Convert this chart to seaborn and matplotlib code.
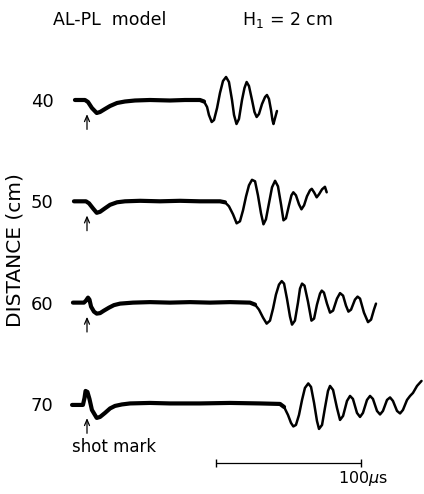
"""Recreation of the AL-PL model record section (H1 = 2 cm): four traces,
shot mark arrows and a 100 us time bar."""
import matplotlib
matplotlib.use("Agg")
import matplotlib.pyplot as plt
import numpy as np
import pandas as pd
import seaborn as sns

# distances of the receivers (cm)
distances = [40, 50, 60, 70]

# time (us, shot at 0) and trace deflection (arbitrary units, up positive)
t_40 = [-8.3, -1.4, 0.7, 3.4, 6.7, 9.0, 12.4, 15.9, 20.7, 26.2, 33.1, 43.4, 57.2, 67.6, 77.9,
        80.7, 82.8, 84.1, 86.0, 87.6, 89.7, 91.7, 93.8, 95.9, 97.9, 100.0, 101.4, 103.1, 104.8,
        106.9, 108.6, 110.1, 111.7, 113.8, 115.5, 117.0, 118.6, 120.7, 122.8, 124.1, 125.5,
        126.9, 127.9, 128.6, 129.7, 131.0]
a_40 = [0, 0, -2, -8, -13, -12, -9, -6, -3, -1.5, -0.5, 0, -0.5, 0, 0,
        -1.5, -7, -15, -22, -20, -8, 7, 19, 23, 18, 0, -15, -24, -19,
        0, 12, 18, 14, 0, -12, -17, -14, -4, 3, 5, 1,
        -10, -20, -24, -18, -11]

t_50 = [-9.0, -0.7, 1.4, 4.1, 6.7, 9.0, 12.4, 15.9, 20.7, 26.2, 36.6, 50.3, 64.1, 77.9, 91.7,
        95.2, 97.9, 100.7, 103.2, 105.5, 107.6, 109.7, 111.7, 113.8, 115.9, 117.9, 120.0, 121.7,
        123.4, 125.5, 127.6, 129.7, 131.7, 133.8, 135.5, 137.2, 139.3, 141.0, 142.3, 144.1,
        146.2, 147.9, 149.7, 151.7, 153.8, 155.0, 156.6, 158.4, 160.0, 162.1, 164.1, 165.3]
a_50 = [0, 0, -2, -7, -11.5, -10.5, -7, -3.5, -1, 0, 0.5, 0, 0.5, 0, 0,
        -1, -5, -13, -22, -20, -9, 5, 16, 21.5, 20, 6, -12, -23,
        -18, -2, 14, 20.5, 15, -3, -19, -17, -4, 6, 9, 6,
        -3, -8, -4, 5, 11, 12.5, 9, 4, 7, 12, 14.5, 9]

t_60 = [-9.7, -2.1, -0.7, 0.7, 1.7, 2.8, 4.8, 6.7, 9.0, 11.7, 15.2, 18.6, 22.8, 31.7, 43.4,
        57.2, 71.0, 84.8, 98.6, 112.4, 115.9, 118.6, 121.4, 123.9, 126.2, 128.3, 130.3, 132.4,
        134.3, 135.9, 137.9, 140.0, 141.4, 143.4, 145.5, 146.9, 148.3, 150.0, 152.4, 154.8,
        156.6, 158.6, 160.7, 161.9, 163.4, 165.5, 167.6, 169.7, 172.4, 174.5, 176.6, 178.6,
        180.3, 182.1, 184.8, 186.6, 188.3, 191.0, 193.8, 195.9, 197.9, 199.3]
a_60 = [0, 0, 2, 5, 3, -4, -9, -11, -10.5, -8, -5, -2.5, -1, 0, 0.5,
        0, 0.5, 0, 0.5, 0, -2, -7, -15, -21, -18, -6, 8, 18,
        21.5, 19, 4, -14, -22, -18, 0, 14, 19, 17, 1, -18,
        -16, -2, 9, 12, 10, -1, -10, -8, 4, 9.5, 7, -3,
        -9, -7, 3, 6, 4, -10, -19.5, -17, -7, -1]

t_70 = [-10.3, -2.8, -1.7, -1.0, 0.3, 1.7, 3.4, 6.7, 9.0, 12.4, 15.9, 19.3, 24.1, 29.7, 43.4,
        57.2, 77.9, 98.6, 119.3, 133.1, 135.9, 138.6, 140.7, 142.3, 144.1, 146.2, 148.3, 150.3,
        152.6, 154.5, 156.6, 158.6, 160.0, 162.1, 164.1, 166.2, 167.6, 169.7, 172.4, 174.5,
        176.6, 179.3, 181.4, 183.4, 186.2, 188.3, 190.3, 193.1, 195.2, 197.2, 200.0, 202.1,
        204.1, 206.9, 209.0, 211.0, 213.8, 215.9, 217.9, 220.7, 222.8, 224.8, 227.6, 230.7]
a_70 = [-1, -1, 6, 13, 12, 5, -6, -14, -13, -9, -4.5, -2, -0.5, 0.5, 1,
        0.5, 0.5, 1, 0.5, 0, -3, -11, -19, -22.5, -21, -11, 4, 16,
        20.5, 17, 1, -17, -25, -21, -4, 13, 18, 14, -4, -16,
        -12, 3, 8, 5, -9, -13, -9, 4, 8, 5, -7, -10.5,
        -7, 4, 6.5, 3, -7, -9.5, -6, 4, 8, 11, 18, 23]

# time where the slow (thick) part of each trace turns into the wave train
onsets = [80.7, 95.2, 115.9, 135.9]

scale_start = 89.0   # us
scale_len = 100.0    # us

GAIN = 0.0987  # cm of plot per deflection unit

times = [t_40, t_50, t_60, t_70]
amps = [a_40, a_50, a_60, a_70]
rows = []
for d, tt, aa in zip(distances, times, amps):
    for t, a in zip(tt, aa):
        rows.append({"dist": d, "t": t, "y": d - a * GAIN})
df = pd.DataFrame(rows)

sns.set_theme(style="white")
plt.rcParams["font.family"] = ["DejaVu Sans"]
plt.rcParams["mathtext.default"] = "regular"
for key in ["text.color", "axes.labelcolor", "xtick.color", "ytick.color"]:
    plt.rcParams[key] = "black"

fig = plt.figure(figsize=(4.24, 4.94), dpi=100)
ax = fig.add_axes([70 / 424, 0, 354 / 424, 1])

for d, onset in zip(distances, onsets):
    sub = df[df["dist"] == d]
    slow = sub[sub["t"] <= onset]
    fast = sub[sub["t"] >= onset]
    sns.lineplot(data=slow, x="t", y="y", sort=False, estimator=None, color="black",
                 lw=3.0, solid_capstyle="round", solid_joinstyle="round", ax=ax)
    sns.lineplot(data=fast, x="t", y="y", sort=False, estimator=None, color="black",
                 lw=1.8, solid_capstyle="round", solid_joinstyle="round", ax=ax)
    # shot mark arrow
    ax.annotate("", xy=(0, d + 1.4), xytext=(0, d + 2.9),
                arrowprops=dict(arrowstyle="->,head_length=0.35,head_width=0.15",
                                lw=0.9, color="black", shrinkA=0, shrinkB=0))

# time scale bar
ax.plot([scale_start, scale_start + scale_len], [75.85, 75.85], color="black", lw=0.9,
        marker="|", markersize=6, markeredgewidth=1.0)
ax.text(173, 77.84, "100$\\mathit{\\mu}$s", fontsize=11.5, ha="left", va="baseline")
ax.text(-10.3, 74.75, "shot mark", fontsize=12, ha="left", va="baseline")

ax.set_xlim(-11.72, 232.41)
ax.set_ylim(78.89, 30.13)
ax.set_yticks(distances)
ax.set_yticklabels([str(d) for d in distances], fontsize=13)
ax.tick_params(axis="y", length=0, pad=12)
ax.set_xticks([])
ax.set_xlabel("")
ax.set_ylabel("")
sns.despine(ax=ax, left=True, bottom=True)
ax.patch.set_alpha(0)

fig.text(15 / 424, 1 - 250 / 494, "DISTANCE (cm)", rotation=90, fontsize=14.5,
         ha="center", va="center")
fig.text(53 / 424, 1 - 25 / 494, "AL-PL  model", fontsize=12.5, ha="left", va="baseline")
fig.text(242 / 424, 1 - 25 / 494, "H$_1$ = 2 cm", fontsize=12.5, ha="left", va="baseline")

fig.savefig("out.png", dpi=100, facecolor="white")
